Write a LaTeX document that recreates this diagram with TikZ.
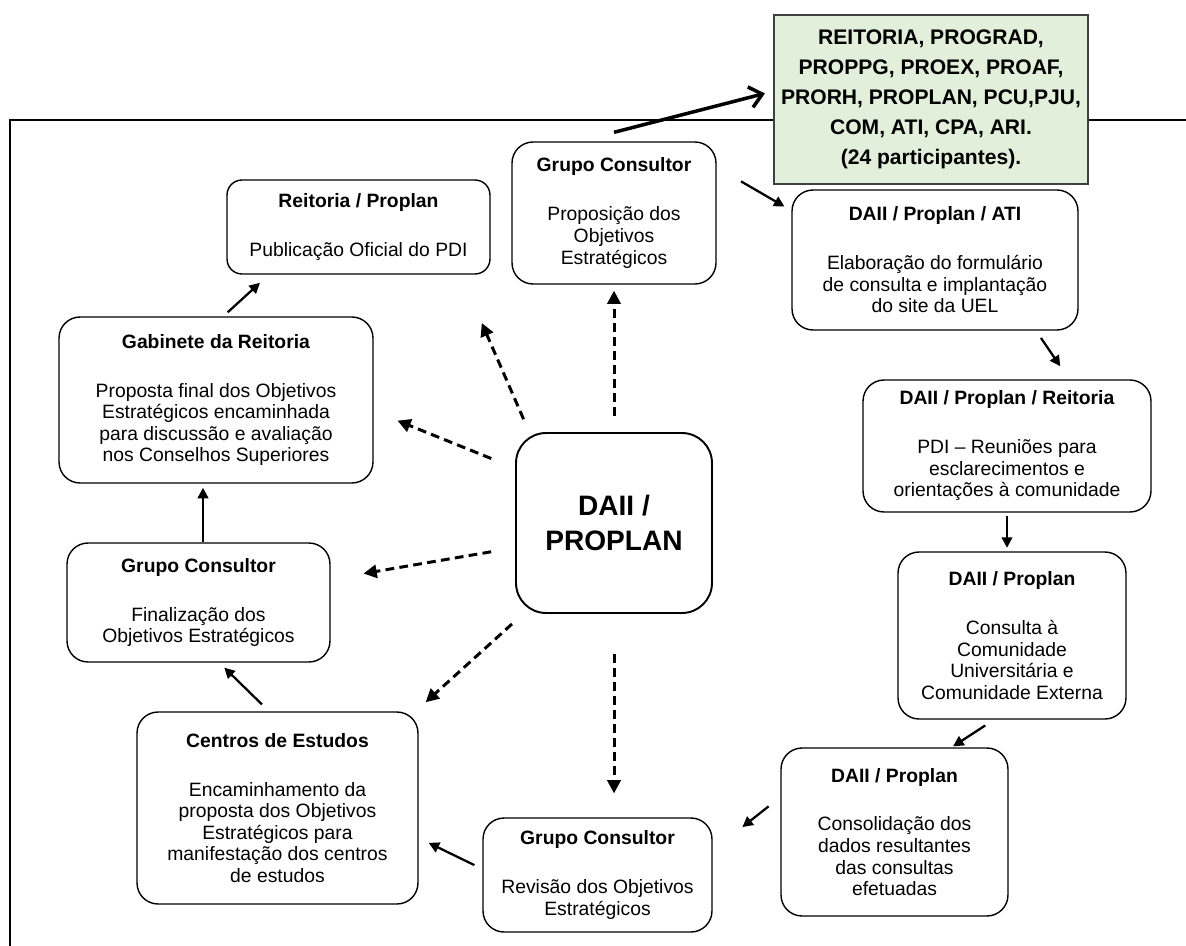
\documentclass[tikz,border=0pt]{standalone}
\usepackage{fontspec}
\setmainfont{Liberation Sans}
\usetikzlibrary{arrows.meta}
\definecolor{notegreen}{HTML}{E2EFDA}

\begin{document}
\begin{tikzpicture}[x=0.02cm,y=-0.02cm,
	box/.style={rectangle,rounded corners=0.42cm,draw,line width=0.8pt,align=center,inner sep=2pt,font=\fontsize{11}{12.3}\selectfont},
	hub/.style={rectangle,rounded corners=0.6cm,draw,line width=1.1pt,align=center,font=\fontsize{16}{20}\selectfont\bfseries,minimum width=3.92cm,minimum height=3.6cm},
	note/.style={rectangle,draw=black!75,fill=notegreen,line width=0.7pt,align=center,font=\fontsize{12}{17}\selectfont\bfseries},
	arr/.style={-{Triangle[length=6pt,width=6pt]},line width=1.3pt},
	darr/.style={-{Triangle[length=7.5pt,width=7.5pt]},line width=1.7pt,dash pattern=on 5pt off 3pt},
	big/.style={-{Straight Barb[length=7pt,width=12pt]},line width=2pt}]
	\useasboundingbox (0,0) rectangle (1186,946);
	\draw[line width=1.4pt] (10,946) -- (10,120) -- (1186,120);
	\node[note, minimum width=6.28cm, minimum height=3.38cm] (info) at (931,99.5) {REITORIA, PROGRAD,\\PROPPG, PROEX, PROAF,\\PRORH, PROPLAN, PCU,PJU,\\COM, ATI, CPA, ARI.\\(24 participantes).};
	\node[box, minimum width=4.08cm, minimum height=2.84cm] (gcA) at (614,213) {\textbf{Grupo Consultor}\\[15.5pt]Proposição dos\\Objetivos\\Estratégicos};
	\node[box, rounded corners=0.3cm, minimum width=5.26cm, minimum height=1.88cm] (reit) at (358.5,227) {\textbf{Reitoria / Proplan}\\[15.5pt]Publicação Oficial do PDI};
	\node[box, minimum width=5.72cm, minimum height=2.8cm] (ati) at (935,260) {\textbf{DAII / Proplan / ATI}\\[15.5pt]Elaboração do formulário\\de consulta e implantação\\do site da UEL};
	\node[box, minimum width=5.76cm, minimum height=2.64cm] (reun) at (1007,446) {\textbf{DAII / Proplan / Reitoria}\\[15.5pt]PDI – Reuniões para\\esclarecimentos e\\orientações à comunidade};
	\node[box, minimum width=4.56cm, minimum height=3.34cm] (cons) at (1012,635.5) {\textbf{DAII / Proplan}\\[15.5pt]Consulta à\\Comunidade\\Universitária e\\Comunidade Externa};
	\node[box, minimum width=4.54cm, minimum height=3.36cm] (conso) at (894.5,832) {\textbf{DAII / Proplan}\\[15.5pt]Consolidação dos\\dados resultantes\\das consultas\\efetuadas};
	\node[box, minimum width=4.58cm, minimum height=2.28cm] (rev) at (597.5,875) {\textbf{Grupo Consultor}\\[15.5pt]Revisão dos Objetivos\\Estratégicos};
	\node[box, minimum width=5.62cm, minimum height=3.84cm] (centros) at (277.5,808) {\textbf{Centros de Estudos}\\[15.5pt]Encaminhamento da\\proposta dos Objetivos\\Estratégicos para\\manifestação dos centros\\de estudos};
	\node[box, minimum width=5.26cm, minimum height=2.38cm] (fin) at (198.5,602.5) {\textbf{Grupo Consultor}\\[15.5pt]Finalização dos\\Objetivos Estratégicos};
	\node[box, minimum width=6.28cm, minimum height=3.32cm] (gab) at (216,400) {\textbf{Gabinete da Reitoria}\\[15.5pt]Proposta final dos Objetivos\\Estratégicos encaminhada\\para discussão e avaliação\\nos Conselhos Superiores};
	\node[hub] (daii) at (614,523) {DAII /\\PROPLAN};
	% ciclo
	\path
	([yshift=0.18cm]gcA.north) edge[big, shorten >=5pt] (info.177)
	(gcA.24) edge[arr, shorten <=16pt, shorten >=4.5pt] (ati.161)
	(ati.-35) edge[arr, shorten <=5pt, shorten >=9pt] (reun.47)
	(reun.south) edge[arr, shorten <=2pt, shorten >=2pt] (reun.south |- cons.north)
	(cons.258) edge[arr, shorten <=6pt, shorten >=1pt] (conso.56)
	(conso.163) edge[arr, shorten <=8.5pt, shorten >=21.5pt] (rev.12)
	(rev.177) edge[arr, shorten <=5pt, shorten >=6.3pt] (centros.-12)
	(centros.95) edge[arr, shorten <=5.6pt, shorten >=4pt] (fin.289)
	([xshift=0.09cm]fin.north) edge[arr, shorten >=2.3pt] ([xshift=0.09cm]fin.north |- gab.south)
	(gab.85) edge[arr, shorten <=3.4pt, shorten >=6.8pt] (reit.208);
	% coordenacao central
	\path
	(daii.north) edge[darr, shorten <=9pt, shorten >=3.4pt] (gcA.south)
	(daii.133) edge[darr, shorten <=8pt, shorten >=30pt] (reit.335)
	(daii.151) edge[darr, shorten <=14.6pt, shorten >=14.6pt] (gab.-4)
	(daii.194) edge[darr, shorten <=13.8pt, shorten >=19pt] (fin.10)
	(daii.225) edge[darr, shorten <=8.5pt, shorten >=7.7pt] (centros.35)
	(daii.south) edge[darr, shorten <=22.7pt, shorten >=13.6pt] (daii.south |- rev.north);
\end{tikzpicture}
\end{document}
